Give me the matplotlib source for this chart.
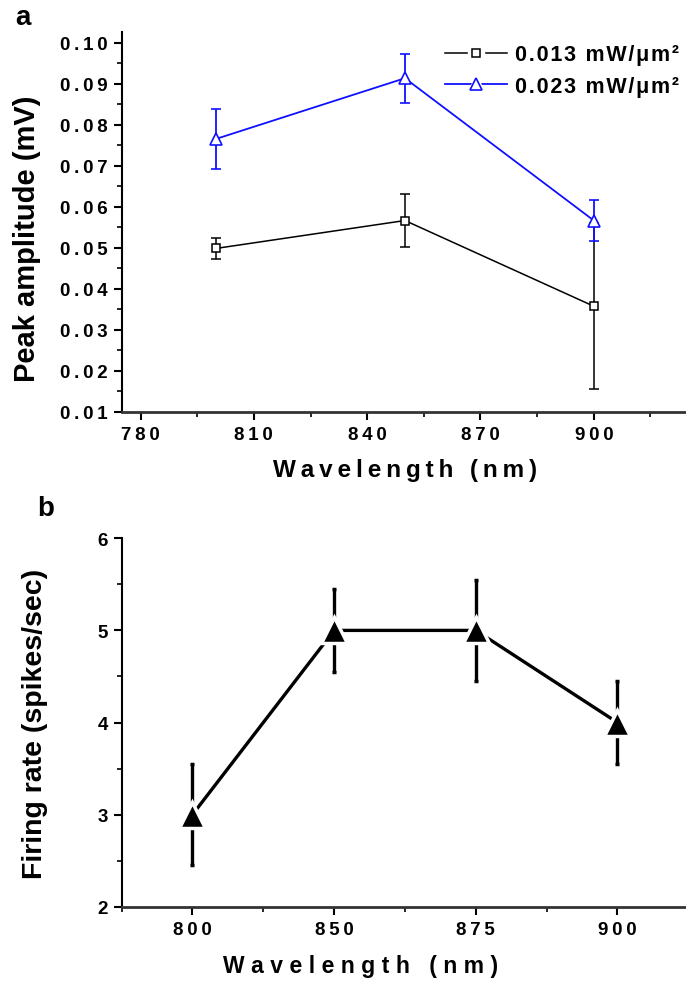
import matplotlib
matplotlib.use("Agg")
import matplotlib.pyplot as plt
from matplotlib.lines import Line2D
from matplotlib.ticker import MultipleLocator, FixedLocator, FuncFormatter
import numpy as np

# panel a: peak amplitude vs wavelength, two power densities
wl_a = [800, 850, 900]
amp_low = [0.0498, 0.0566, 0.0357]
err_low = [0.0026, 0.0065, 0.0202]
amp_high = [0.0765, 0.0913, 0.0566]
err_high = [0.0073, 0.0060, 0.0051]
labels_a = ["0.013 mW/\u03bcm\u00b2", "0.023 mW/\u03bcm\u00b2"]

# panel b: firing rate per wavelength (categorical axis)
wl_b = ["800", "850", "875", "900"]
rate = [3.0, 5.0, 5.0, 4.0]
rate_err = [0.55, 0.45, 0.55, 0.45]

FONT = ["Liberation Sans", "DejaVu Sans"]
BLUE = "#1010ff"
THIN, HAIR = "\u2009", "\u200a"


def spaced(s, gap=THIN):
    # Origin export looks letter-spaced; fake it with narrow spaces
    return gap.join(s)


def style_axes(ax, fmt):
    for s in ("top", "right"):
        ax.spines[s].set_visible(False)
    ax.spines["left"].set_linewidth(1.5)
    ax.spines["bottom"].set_linewidth(2.0)
    ax.spines["bottom"].set_color("#333333")
    ax.tick_params(which="major", direction="out", length=6, width=1.5, pad=4)
    ax.tick_params(which="minor", direction="out", length=3.5, width=1.2)
    ax.yaxis.set_major_formatter(FuncFormatter(lambda v, p: spaced(fmt % v)))
    for lab in ax.get_xticklabels() + ax.get_yticklabels():
        lab.set_family(FONT)
        lab.set_weight("bold")
        lab.set_fontsize(13.5)


fig = plt.figure(figsize=(6.86, 9.87), dpi=100)

# ---------------- panel a ----------------
axa = fig.add_axes([0.1773, 0.5819, 0.826, 0.3844])
axa.errorbar(wl_a, amp_low, yerr=err_low, color="black", lw=1.1,
             marker="s", ms=6, mfc="white", mec="black", mew=1.1,
             capsize=3.8, capthick=1.1, elinewidth=1.1)
axa.errorbar(wl_a, amp_high, yerr=err_high, color=BLUE, lw=1.3,
             marker="^", ms=8, mfc="white", mec=BLUE, mew=1.2,
             capsize=3.8, capthick=1.3, elinewidth=1.3)
axa.set_xlim(775, 925)
axa.set_ylim(0.01, 0.1025)
axa.xaxis.set_major_locator(FixedLocator([780, 810, 840, 870, 900]))
axa.xaxis.set_minor_locator(FixedLocator([795, 825, 855, 885, 915]))
axa.xaxis.set_major_formatter(FuncFormatter(lambda v, p: spaced("%d" % v)))
axa.yaxis.set_major_locator(FixedLocator(np.arange(0.01, 0.101, 0.01)))
axa.yaxis.set_minor_locator(FixedLocator(np.arange(0.015, 0.1, 0.01)))
style_axes(axa, "%.2f")
axa.set_xlabel(spaced("Wavelength (nm)"), family=FONT, weight="bold",
               fontsize=17.5, labelpad=11)
axa.set_ylabel("Peak amplitude (mV)", family=FONT, weight="bold", fontsize=21)
axa.yaxis.set_label_coords(-0.142, 0.459)

# legend handles with a gap between line and marker
h_low = (Line2D([], [], color="black", lw=1.1, marker="s", ms=11,
                mfc="white", mec="white"),
         Line2D([], [], ls="none", marker="s", ms=6, mfc="white",
                mec="black", mew=1.1))
h_high = (Line2D([], [], color=BLUE, lw=1.3, marker="^", ms=13,
                 mfc="white", mec="white"),
          Line2D([], [], ls="none", marker="^", ms=8, mfc="white",
                 mec=BLUE, mew=1.2))
axa.legend([h_low, h_high], [spaced(t, HAIR) for t in labels_a],
           loc="center left",
           bbox_to_anchor=(0.6487, 0.9276), bbox_transform=fig.transFigure,
           frameon=False, handlelength=2.9, handletextpad=0.35,
           labelspacing=0.5, borderaxespad=0, borderpad=0,
           prop={"family": FONT, "weight": "bold", "size": 15.5})

fig.text(0.022, 0.995, "a", family=FONT, weight="bold", fontsize=20, va="top")

# ---------------- panel b ----------------
axb = fig.add_axes([0.1773, 0.0803, 0.826, 0.3733])
xb = np.arange(len(wl_b))
axb.errorbar(xb, rate, yerr=rate_err, color="black", lw=2.4,
             marker="^", ms=19, mfc="black", mec="white", mew=2.5,
             capsize=1.6, capthick=2.4, elinewidth=2.4, zorder=3)
axb.set_xlim(-0.5, 3.5)
axb.set_ylim(2, 6)
axb.set_xticks(xb)
axb.set_xticklabels([spaced(w) for w in wl_b])
axb.xaxis.set_minor_locator(FixedLocator([-0.5, 0.5, 1.5, 2.5, 3.5]))
axb.yaxis.set_major_locator(MultipleLocator(1))
axb.yaxis.set_minor_locator(MultipleLocator(0.5))
style_axes(axb, "%d")
axb.set_xlabel(spaced("Wavelength (nm)", THIN + HAIR), family=FONT,
               weight="bold", fontsize=16.5)
axb.xaxis.set_label_coords(0.421, -0.127)
axb.set_ylabel("Firing rate (spikes/sec)", family=FONT, weight="bold",
               fontsize=20.5)
axb.yaxis.set_label_coords(-0.130, 0.5)

fig.text(0.055, 0.497, "b", family=FONT, weight="bold", fontsize=20, va="top")

fig.savefig("out.png", dpi=100)
